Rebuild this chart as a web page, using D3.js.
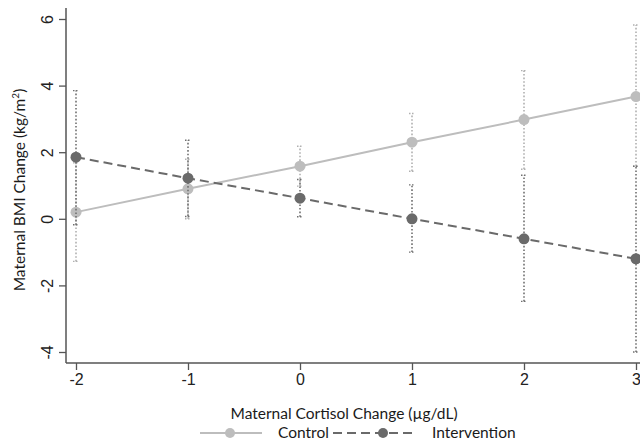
<!DOCTYPE html>
<html>
<head>
<meta charset="utf-8">
<script src="https://cdn.jsdelivr.net/npm/d3@7"></script>
<style>
  body { margin: 0; background: #fff; }
  .tick text { font-family: "Liberation Sans", Arial, sans-serif; font-size: 16px; fill: #222; }
  .lbl { font-family: Lato, "Open Sans", sans-serif; font-size: 15.5px; fill: #1a1a1a; }
</style>
</head>
<body>
<svg id="chart" width="640" height="440"></svg>
<script>
// cortisol change values on the x axis
var xVals = [-2, -1, 0, 1, 2, 3];

// control group: predicted BMI change with 95% CI
var ctrlMean  = [0.2, 0.9, 1.58, 2.3, 2.98, 3.67];
var ctrlLow   = [-1.28, 0.0, 0.98, 1.43, 1.49, 1.58];
var ctrlHigh  = [1.68, 1.79, 2.18, 3.16, 4.45, 5.82];

// intervention group
var intMean = [1.85, 1.22, 0.62, 0.0, -0.6, -1.2];
var intLow  = [-0.18, 0.07, 0.06, -1.0, -2.48, -4.0];
var intHigh = [3.85, 2.36, 1.18, 1.02, 1.31, 1.58];

var yTicks = [-4, -2, 0, 2, 4, 6];

var svg = d3.select('#chart');

var x = d3.scaleLinear().domain([-2, 3]).range([76, 636]);
var y = d3.scaleLinear().domain([-4, 6]).range([352, 19]);

var axisColor = '#555';
var ctrlColor = '#bdbdbd';
var intColor = '#6a6a6a';
var fmt = function(d) { return String(d); };

// axes
var xAxis = svg.append('g')
  .attr('transform', 'translate(0,363)')
  .call(d3.axisBottom(x).tickValues(xVals).tickFormat(fmt).tickSize(7).tickSizeOuter(0).tickPadding(4));
xAxis.select('.domain').remove();
xAxis.selectAll('.tick line').attr('stroke', axisColor).attr('stroke-width', 1.3);

var yAxis = svg.append('g')
  .attr('transform', 'translate(66,0)')
  .call(d3.axisLeft(y).tickValues(yTicks).tickFormat(fmt).tickSize(7).tickSizeOuter(0));
yAxis.select('.domain').remove();
yAxis.selectAll('.tick line').attr('stroke', axisColor).attr('stroke-width', 1.3);
yAxis.selectAll('.tick text')
  .attr('x', 0).attr('dy', 0)
  .attr('text-anchor', 'middle')
  .attr('transform', 'translate(-13,0) rotate(-90)');

svg.append('line')
  .attr('x1', 66).attr('x2', 640).attr('y1', 363).attr('y2', 363)
  .attr('stroke', axisColor).attr('stroke-width', 1.5);
svg.append('line')
  .attr('x1', 66).attr('x2', 66).attr('y1', 8).attr('y2', 363)
  .attr('stroke', axisColor).attr('stroke-width', 1.5);

// axis titles
svg.append('text').attr('class', 'lbl')
  .attr('x', 344).attr('y', 419).attr('text-anchor', 'middle')
  .text('Maternal Cortisol Change (µg/dL)');

var yt = svg.append('text').attr('class', 'lbl')
  .attr('font-size', 16.5)
  .attr('transform', 'translate(25,190) rotate(-90)')
  .attr('text-anchor', 'middle');
yt.append('tspan').text('Maternal BMI Change (kg/m');
yt.append('tspan').attr('dy', -6).attr('font-size', 10).text('2');
yt.append('tspan').attr('dy', 6).text(')');

function series(mean, low, high, color, barColor, dash) {
  var data = xVals.map(function(v, i) {
    return { x: v, m: mean[i], lo: low[i], hi: high[i] };
  });
  var g = svg.append('g');
  var bars = g.selectAll('g.err').data(data).enter().append('g');
  bars.append('line')
    .attr('x1', function(d) { return x(d.x); })
    .attr('x2', function(d) { return x(d.x); })
    .attr('y1', function(d) { return y(d.lo); })
    .attr('y2', function(d) { return y(d.hi); })
    .attr('stroke', barColor).attr('stroke-width', 1.6)
    .attr('stroke-dasharray', '1.6,2');
  [function(d) { return d.lo; }, function(d) { return d.hi; }].forEach(function(f) {
    bars.append('line')
      .attr('x1', function(d) { return x(d.x) - 3; })
      .attr('x2', function(d) { return x(d.x) + 3; })
      .attr('y1', function(d) { return y(f(d)); })
      .attr('y2', function(d) { return y(f(d)); })
      .attr('stroke', barColor).attr('stroke-width', 1.4)
      .attr('stroke-dasharray', '1.5,1.5');
  });
  return { g: g, data: data, color: color, dash: dash };
}

var line = d3.line().x(function(d) { return x(d.x); }).y(function(d) { return y(d.m); });

function drawLine(s) {
  s.g.append('path').datum(s.data)
    .attr('d', line)
    .attr('fill', 'none')
    .attr('stroke', s.color).attr('stroke-width', 2)
    .attr('stroke-dasharray', s.dash);
  s.g.selectAll('circle').data(s.data).enter().append('circle')
    .attr('cx', function(d) { return x(d.x); })
    .attr('cy', function(d) { return y(d.m); })
    .attr('r', 5.5)
    .attr('fill', s.color);
}

var sc = series(ctrlMean, ctrlLow, ctrlHigh, ctrlColor, '#b0b0b0', null);
var si = series(intMean, intLow, intHigh, intColor, '#707070', '9,5');
drawLine(sc);
drawLine(si);

// legend
var lg = svg.append('g');
lg.append('line').attr('x1', 200).attr('x2', 262).attr('y1', 433).attr('y2', 433)
  .attr('stroke', ctrlColor).attr('stroke-width', 2);
lg.append('circle').attr('cx', 230).attr('cy', 433).attr('r', 5).attr('fill', ctrlColor);
lg.append('text').attr('class', 'lbl').attr('x', 278).attr('y', 438).text('Control');

lg.append('line').attr('x1', 333).attr('x2', 412).attr('y1', 433).attr('y2', 433)
  .attr('stroke', intColor).attr('stroke-width', 2).attr('stroke-dasharray', '9,5');
lg.append('circle').attr('cx', 383).attr('cy', 433).attr('r', 5).attr('fill', intColor);
lg.append('text').attr('class', 'lbl').attr('x', 432).attr('y', 438).text('Intervention');
</script>
</body>
</html>
